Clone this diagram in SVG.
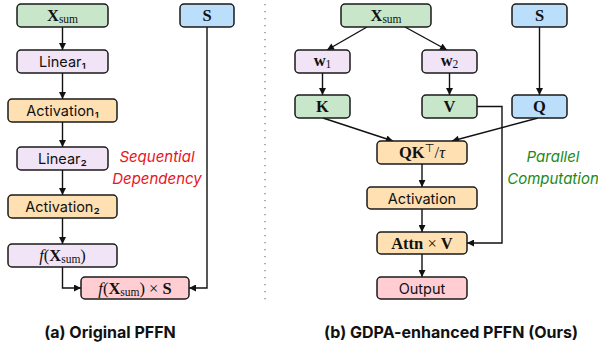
<svg xmlns="http://www.w3.org/2000/svg" width="598" height="347" viewBox="0 0 598 347">
<style>
.n{stroke:#1a1a1a;stroke-width:1.5}
.g{fill:#c8e6c9}.b{fill:#bbdefb}.p{fill:#f1e4f6}.o{fill:#ffe0b2}.r{fill:#ffcdd2}
.t{font-family:Inter,"Liberation Sans",sans-serif;font-size:14.5px;fill:#111;text-anchor:middle}
.m{font-family:"Liberation Serif","Times New Roman",serif;font-size:16.5px;fill:#111;text-anchor:middle}
.bd{font-weight:bold}
.sub{font-size:11.5px}
.it{font-style:italic}
.c{fill:none;stroke:#111;stroke-width:1.4;marker-end:url(#a)}
.cap{font-family:Inter,"Liberation Sans",sans-serif;font-size:16px;font-weight:bold;fill:#111;text-anchor:middle}
.lab{font-family:Inter,"Liberation Sans",sans-serif;font-size:15px;font-style:italic;text-anchor:middle}
</style>
<defs>
<marker id="a" viewBox="0 0 10 10" refX="10" refY="5" markerWidth="8" markerHeight="7" markerUnits="userSpaceOnUse" orient="auto">
<path d="M0,0 L10,5 L0,10 z" fill="#111"/>
</marker>
</defs>
<rect width="598" height="347" fill="#fff"/>
<line x1="265" y1="4" x2="265" y2="304" stroke="#777" stroke-width="1.2" stroke-dasharray="1.2 5.8"/>

<g id="connectors">
<line class="c" x1="62.5" y1="27" x2="62.5" y2="50"/>
<line class="c" x1="62.5" y1="73" x2="62.5" y2="99"/>
<line class="c" x1="62.5" y1="122" x2="62.5" y2="147"/>
<line class="c" x1="62.5" y1="170" x2="62.5" y2="195"/>
<line class="c" x1="62.5" y1="218" x2="62.5" y2="244"/>
<path class="c" d="M62.5,267 V288 H81"/>
<path class="c" d="M207,27 V288 H189"/>
<line class="c" x1="367" y1="27" x2="327" y2="50"/>
<line class="c" x1="405" y1="27" x2="447" y2="50"/>
<line class="c" x1="322.5" y1="73" x2="322.5" y2="95"/>
<line class="c" x1="449.5" y1="73" x2="449.5" y2="95"/>
<line class="c" x1="539.5" y1="27" x2="539.5" y2="95"/>
<line class="c" x1="323" y1="118" x2="393" y2="141"/>
<line class="c" x1="538" y1="118" x2="452" y2="141"/>
<path class="c" d="M477,106.5 H502 V243 H467"/>
<line class="c" x1="422" y1="164" x2="422" y2="187"/>
<line class="c" x1="422" y1="209" x2="422" y2="232"/>
<line class="c" x1="422" y1="254" x2="422" y2="277"/>
</g>

<g id="l_xsum"><rect class="n g" x="17" y="4" width="91" height="23" rx="4"/>
<text class="m" x="62.5" y="21"><tspan class="bd">X</tspan><tspan class="sub" dy="2">sum</tspan></text></g>
<g id="l_s"><rect class="n b" x="180" y="4" width="54" height="23" rx="4"/>
<text class="m bd" x="207" y="21">S</text></g>
<g id="l_lin1"><rect class="n p" x="17" y="50" width="91" height="23" rx="4"/>
<text class="t" x="62.5" y="67">Linear₁</text></g>
<g id="l_act1"><rect class="n o" x="8" y="99" width="109" height="23" rx="4"/>
<text class="t" x="62.5" y="116">Activation₁</text></g>
<g id="l_lin2"><rect class="n p" x="17" y="147" width="91" height="23" rx="4"/>
<text class="t" x="62.5" y="164">Linear₂</text></g>
<g id="l_act2"><rect class="n o" x="8" y="195" width="109" height="23" rx="4"/>
<text class="t" x="62.5" y="212">Activation₂</text></g>
<g id="l_f"><rect class="n p" x="8" y="244" width="109" height="23" rx="4"/>
<text class="m" x="62.5" y="261"><tspan class="it">f</tspan>(<tspan class="bd">X</tspan><tspan class="sub" dy="2">sum</tspan><tspan dy="-2">)</tspan></text></g>
<g id="l_fs"><rect class="n r" x="81" y="277" width="108" height="22" rx="4"/>
<text class="m" x="135" y="294"><tspan class="it">f</tspan>(<tspan class="bd">X</tspan><tspan class="sub" dy="2">sum</tspan><tspan dy="-2">) × </tspan><tspan class="bd">S</tspan></text></g>

<text class="lab" x="157" y="162" fill="#e8141c">Sequential</text>
<text class="lab" x="157" y="184" fill="#e8141c">Dependency</text>

<g id="r_xsum"><rect class="n g" x="341" y="4" width="90" height="23" rx="4"/>
<text class="m" x="386" y="21"><tspan class="bd">X</tspan><tspan class="sub" dy="2">sum</tspan></text></g>
<g id="r_s"><rect class="n b" x="512" y="4" width="55" height="23" rx="4"/>
<text class="m bd" x="539.5" y="21">S</text></g>
<g id="r_w1"><rect class="n p" x="295" y="50" width="55" height="23" rx="4"/>
<text class="m" x="322.5" y="66"><tspan class="bd">w</tspan><tspan class="sub" dy="2">1</tspan></text></g>
<g id="r_w2"><rect class="n p" x="422" y="50" width="55" height="23" rx="4"/>
<text class="m" x="449.5" y="66"><tspan class="bd">w</tspan><tspan class="sub" dy="2">2</tspan></text></g>
<g id="r_k"><rect class="n g" x="295" y="95" width="55" height="23" rx="4"/>
<text class="m bd" x="322.5" y="112">K</text></g>
<g id="r_v"><rect class="n g" x="422" y="95" width="55" height="23" rx="4"/>
<text class="m bd" x="449.5" y="112">V</text></g>
<g id="r_q"><rect class="n b" x="512" y="95" width="55" height="23" rx="4"/>
<text class="m bd" x="539.5" y="112">Q</text></g>
<g id="r_qk"><rect class="n o" x="377" y="141" width="90" height="23" rx="4"/>
<text class="m" x="422" y="158"><tspan class="bd">QK</tspan><tspan class="sub" dy="-6" style="font-family:'DejaVu Sans',sans-serif">⊤</tspan><tspan dy="6">/</tspan><tspan class="it">τ</tspan></text></g>
<g id="r_act"><rect class="n o" x="367" y="187" width="110" height="22" rx="4"/>
<text class="t" x="422" y="203.5">Activation</text></g>
<g id="r_attn"><rect class="n o" x="377" y="232" width="90" height="22" rx="4"/>
<text class="m" x="422" y="249"><tspan class="bd">Attn</tspan> × <tspan class="bd">V</tspan></text></g>
<g id="r_out"><rect class="n r" x="377" y="277" width="90" height="22" rx="4"/>
<text class="t" x="422" y="293.5">Output</text></g>

<text class="lab" x="553" y="162" fill="#1a8a1a">Parallel</text>
<text class="lab" x="553" y="184" fill="#1a8a1a">Computation</text>

<text class="cap" x="110" y="338">(a) Original PFFN</text>
<text class="cap" x="451" y="338">(b) GDPA-enhanced PFFN (Ours)</text>
</svg>
